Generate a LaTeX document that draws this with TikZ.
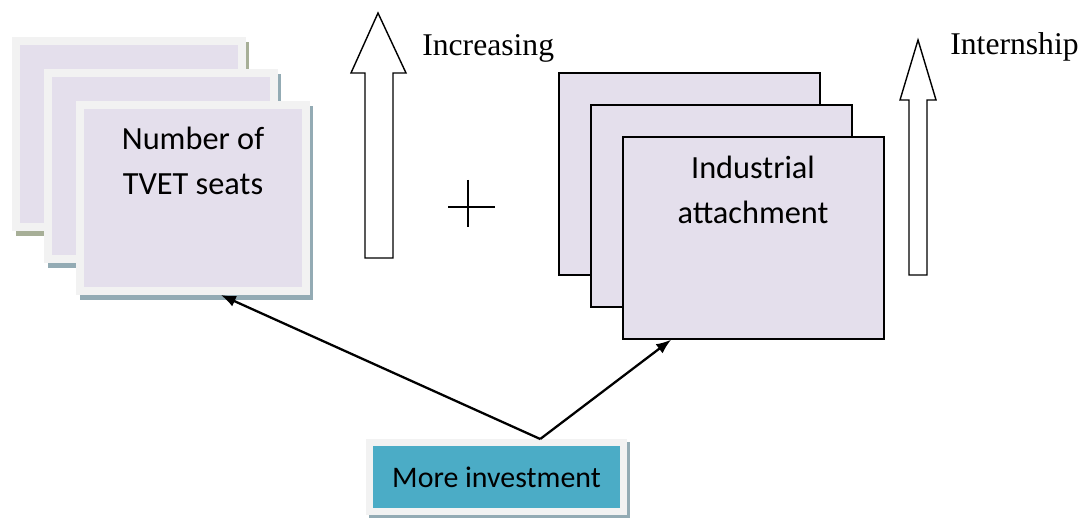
\documentclass[tikz,border=0pt]{standalone}
\usepackage{fontspec}
\setmainfont{Liberation Serif}
\newfontfamily\boxfont{Carlito}
\usetikzlibrary{arrows.meta,shadows}
\definecolor{lavender}{HTML}{E4DFEC}
\definecolor{framegray}{HTML}{F2F2F2}
\definecolor{shadeolive}{HTML}{A7AF97}
\definecolor{shadeblue}{HTML}{93ABB4}
\definecolor{investteal}{HTML}{4BACC6}
\tikzset{
  framecard/.style={draw=framegray, fill=lavender, line width=0.16cm, minimum width=4.52cm, minimum height=3.72cm,
    drop shadow={shadow xshift=0.07cm, shadow yshift=-0.1cm, draw=#1, fill=#1, line width=0.16cm, opacity=1}},
  plaincard/.style={draw, fill=lavender, line width=0.8pt, minimum width=5.22cm, minimum height=4.04cm},
  boxtext/.style={font=\boxfont\fontsize{18.4}{26}\selectfont, align=center},
  sidelabel/.style={font=\fontsize{18}{20}\selectfont, anchor=base west, inner sep=0},
  blockarrow/.style={draw, fill=white, line width=0.8pt},
  link/.style={-{Latex[length=3mm,width=2.3mm]}, line width=1.3pt}
}
\begin{document}
\begin{tikzpicture}[x=0.02cm, y=-0.02cm]
  \useasboundingbox (0,0) rectangle (1091,520);
  \node[framecard=shadeolive] (seatsback) at (129,134) {};
  \node[framecard=shadeblue] (seatsmid) at (161,166) {};
  \node[framecard=shadeblue] (seats) at (193,198) {};
  \node[boxtext] (seatstext) at (193,161) {Number of\\TVET seats};
  \draw[blockarrow] (365,258) -- (365,73) -- (351,73) -- (378,13) -- (406,73) -- (393,73) -- (393,258) -- cycle;
  \node[sidelabel] (increasing) at (422,56) {Increasing};
  \draw[line width=0.7pt] (448,207) -- (495,207) (468,180) -- (468,227);
  \node[plaincard] (attachback) at (689.5,174) {};
  \node[plaincard] (attachmid) at (721.5,206) {};
  \node[plaincard] (attach) at (753.5,238) {};
  \node[boxtext] (attachtext) at (753,190) {Industrial\\attachment};
  \draw[blockarrow] (909,275) -- (909,100) -- (900,100) -- (918,40) -- (936,100) -- (927,100) -- (927,275) -- cycle;
  \node[sidelabel] (internship) at (950,55) {Internship};
  \node[draw=framegray, fill=investteal, line width=0.14cm, minimum width=5.08cm, minimum height=1.38cm,
    drop shadow={shadow xshift=0.06cm, shadow yshift=-0.06cm, draw=shadeblue, fill=shadeblue, line width=0.14cm, opacity=1},
    font=\boxfont\fontsize{17}{20}\selectfont] (invest) at (496.5,477) {More investment};
  \draw[link] (invest.41) -- (seats.-74);
  \draw[link] (invest.41) -- (attach.-129);
\end{tikzpicture}
\end{document}
